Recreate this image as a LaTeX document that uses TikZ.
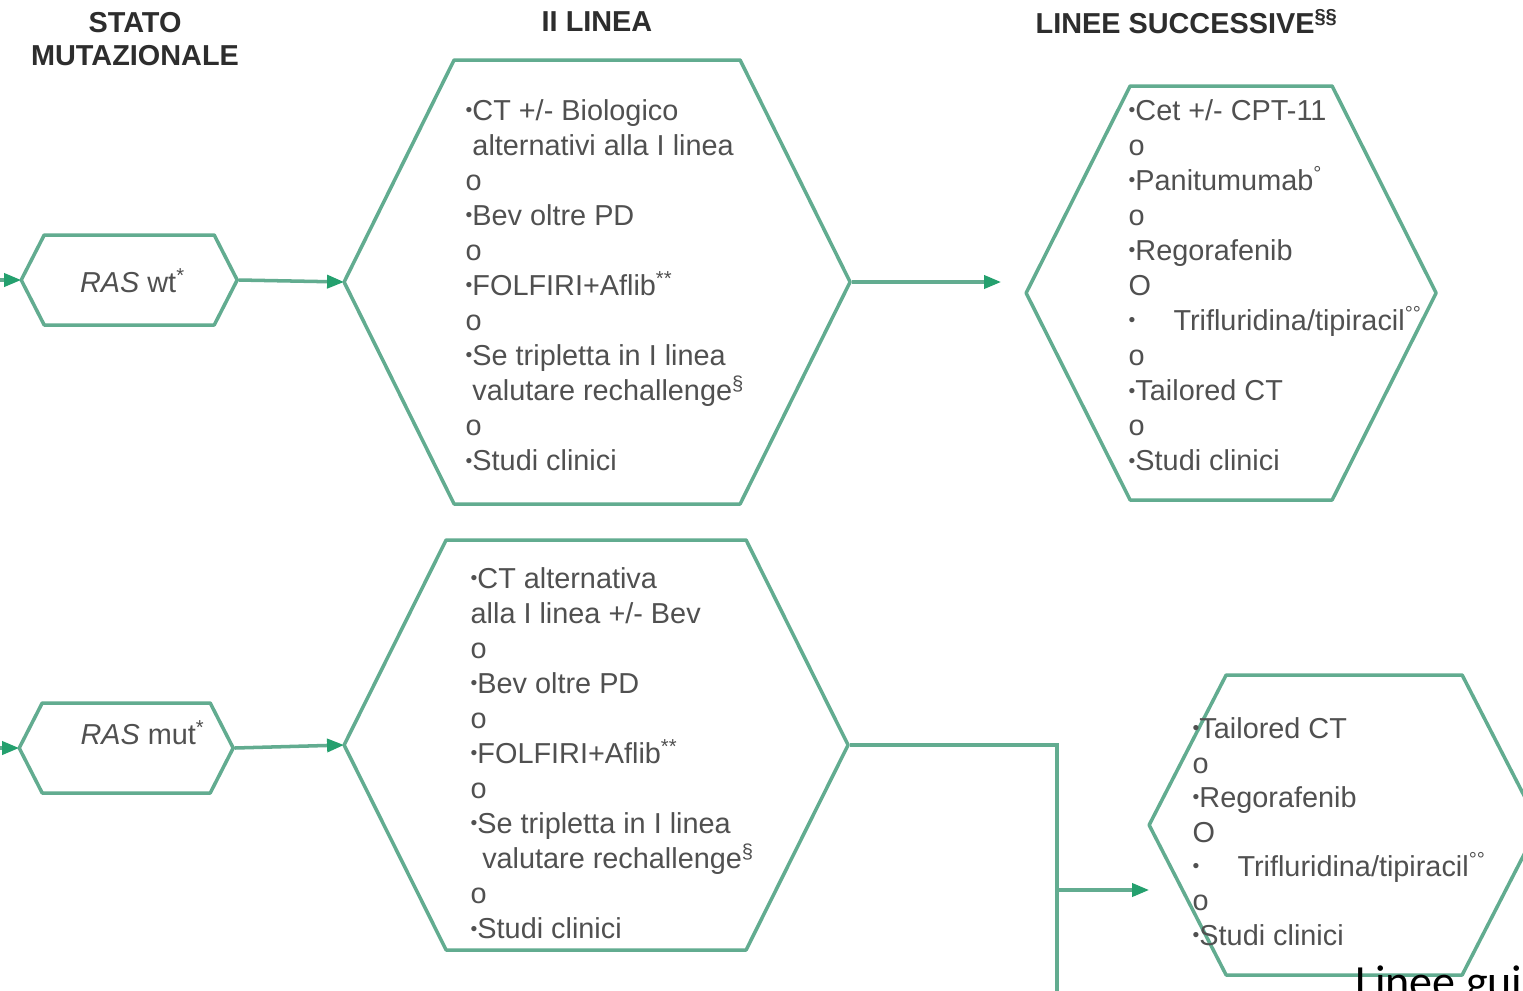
\documentclass[tikz,border=0pt]{standalone}
\usepackage{fontspec}
\setmainfont{Liberation Sans}
\newfontfamily\calib{Carlito}
\usepackage{tikz}
\usetikzlibrary{arrows.meta}
\definecolor{hexgreen}{RGB}{98,172,144}
\definecolor{tipgreen}{RGB}{36,160,110}
\definecolor{textgray}{RGB}{80,80,80}
\definecolor{headgray}{RGB}{45,45,45}
\newcommand\bl{\raisebox{0.25ex}{\fontsize{5.5}{5}\selectfont\textbullet}}
\def\Hexagon(#1) at (#2,#3) size (#4,#5,#6);{
    \node[hexbox, minimum width=#4*0.02cm, minimum height=#5*0.02cm] (#1) at (#2,#3) {};
    \draw[hexline] (#1.west) -- ++(#6,-#5) -- ++({2*(#4-#6)},0) -- ++(#6,#5)
        -- ++(-#6,#5) -- ++({-2*(#4-#6)},0) -- cycle;
}

\begin{document}
\begin{tikzpicture}[x=0.01cm, y=-0.01cm,
    hexbox/.style={inner sep=0, draw=none},
    hexline/.style={draw=hexgreen, line width=1pt, line join=round},
    link/.style={draw=hexgreen, line width=1pt},
    arr/.style={link, -{Triangle[length=0.17cm, width=0.13cm, color=tipgreen]}},
    head/.style={font=\bfseries\fontsize{8.2}{9.4}\selectfont, text=headgray, align=center, inner sep=0},
    txt/.style={align=left, anchor=north west, inner sep=0, text=textgray,
        font=\fontsize{8.2}{9.96}\selectfont}]
    \useasboundingbox[fill=white] (0,0) rectangle (1523,990);
    % column headings
    \node[head] (hstato) at (135,39) {STATO\\MUTAZIONALE};
    \node[head] (hlinea) at (597,22) {II LINEA};
    \node[head, anchor=west] (hsucc) at (1035,22) {LINEE SUCCESSIVE\textsuperscript{\S\S}};
    % hexagons
    \Hexagon(wt) at (130,280) size (108,45,23);
    \Hexagon(mut) at (127,748) size (107,45,23);
    \Hexagon(midwt) at (598,282) size (253,222,110);
    \Hexagon(midmut) at (597,745) size (252,205,102);
    \Hexagon(succwt) at (1232,293) size (205,207,104);
    \Hexagon(succmut) at (1345,825) size (195,150,77);
    % texts
    \node[font=\fontsize{8.2}{9.96}\selectfont, text=textgray] (wttxt) at (133,281) {\textit{RAS} wt\textsuperscript{*}};
    \node[font=\fontsize{8.2}{9.96}\selectfont, text=textgray] (muttxt) at (143,733) {\textit{RAS} mut\textsuperscript{*}};
    \node[txt] (midwttxt) at (465,99) {\bl CT +/- Biologico\\
        \hphantom{\bl}alternativi alla I linea\\ o\\ \bl Bev oltre PD\\ o\\
        \bl FOLFIRI+Aflib\textsuperscript{**}\\ o\\ \bl Se tripletta in I linea\\
        \hphantom{\bl}valutare rechallenge\textsuperscript{\S}\\ o\\ \bl Studi clinici};
    \node[txt] (midmuttxt) at (470,567) {\bl CT alternativa\\
        alla I linea +/- Bev\\ o\\ \bl Bev oltre PD\\ o\\
        \bl FOLFIRI+Aflib\textsuperscript{**}\\ o\\ \bl Se tripletta in I linea\\
        \hphantom{\bl}\,valutare rechallenge\textsuperscript{\S}\\ o\\ \bl Studi clinici};
    \node[txt] (succwttxt) at (1128,99) {\bl Cet +/- CPT-11\\ o\\
        \bl Panitumumab\textsuperscript{°}\\ o\\ \bl Regorafenib\\ O\\
        \bl\hspace{0.38cm}Trifluridina/tipiracil\textsuperscript{°°}\\ o\\
        \bl Tailored CT\\ o\\ \bl Studi clinici};
    \node[txt, font=\fontsize{8.2}{9.8}\selectfont] (succmuttxt) at (1192,717) {\bl Tailored CT\\ o\\
        \bl Regorafenib\\ O\\
        \bl\hspace{0.38cm}Trifluridina/tipiracil\textsuperscript{°°}\\ o\\
        \bl Studi clinici};
    \node[font=\calib\fontsize{13.1}{15}\selectfont, anchor=base west, inner sep=0] (guide) at (1355,997) {Linee gui};
    % connectors
    \coordinate (wtin) at (-40,280);
    \coordinate (mutin) at (-40,748);
    \coordinate (split) at (1057,740);
    \coordinate (branch) at (1057,890);
    \coordinate (down) at (1057,1010);
    \draw[arr] (wtin) -- (wt.west);
    \draw[arr] (mutin) -- (mut.west);
    \draw[arr] (wt.east) -- (midwt.west);
    \draw[arr] (mut.east) -- (midmut.west);
    \draw[arr, shorten >=0.25cm] (midwt.east) -- (midwt.east -| succwt.west);
    \draw[link] (midmut.east) -- (midmut.east -| split) -- (down);
    \draw[arr] (branch) -- (branch -| succmut.west);
\end{tikzpicture}
\end{document}
